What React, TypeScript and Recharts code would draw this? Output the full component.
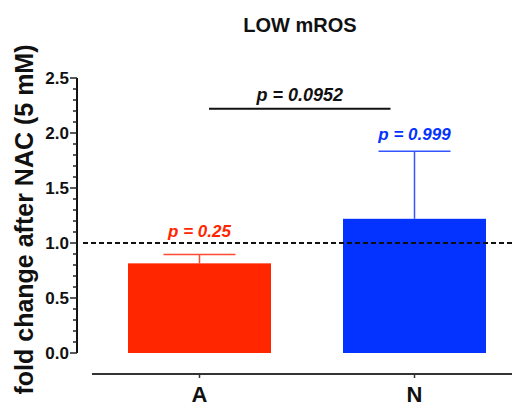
import React from 'react';
import { BarChart, Bar, XAxis, YAxis, ReferenceLine } from 'recharts';

const categories = ['A', 'N'];
const means = [0.815, 1.22];
const sems = [0.08, 0.615];
const pLabels = ['p = 0.25', 'p = 0.999'];
const yTicks = [
  0, 0.1, 0.2, 0.3, 0.4, 0.5, 0.6, 0.7, 0.8, 0.9, 1.0, 1.1, 1.2,
  1.3, 1.4, 1.5, 1.6, 1.7, 1.8, 1.9, 2.0, 2.1, 2.2, 2.3, 2.4, 2.5,
];
const baseline = 1.0;
const comparisonY = 2.22;
const comparisonLabel = 'p = 0.0952';

const FONT = '"Liberation Sans", Arial, sans-serif';
const barColors: Record<string, string> = { A: '#FF2600', N: '#0433FF' };
const whiskerColors: Record<string, string> = { A: '#FF4A33', N: '#3355FF' };
const labelGap: Record<string, number> = { A: 18, N: 11 };

const rows = categories.map((name, i) => ({
  name,
  mean: means[i],
  sem: sems[i],
  p: pLabels[i],
}));

// long mark + label every 0.5, short mark every 0.1
function YTick(props: any) {
  const { x, y, payload } = props;
  const v = payload.value;
  const major = Math.abs(v * 2 - Math.round(v * 2)) < 1e-6;
  return (
    <g>
      <line x1={x - (major ? 7 : 4)} x2={x} y1={y} y2={y} stroke="#222" strokeWidth={1.5} />
      {major && (
        <text
          x={x - 8}
          y={y}
          textAnchor="end"
          dominantBaseline="central"
          fontFamily={FONT}
          fontWeight="bold"
          fontSize={17}
          fill="#111"
        >
          {v.toFixed(1)}
        </text>
      )}
    </g>
  );
}

// bar + upper SEM whisker + p label, all off the bar's own geometry
function BarWithError(props: any) {
  const { x, y, width, height, payload } = props;
  const pxPerUnit = height / payload.mean;
  const top = y - payload.sem * pxPerUnit;
  const cx = x + width / 2;
  const capHalf = 36;
  const color = barColors[payload.name];
  const whisker = whiskerColors[payload.name];
  return (
    <g>
      <rect x={x} y={y} width={width} height={height} fill={color} />
      <line x1={cx} x2={cx} y1={y} y2={top} stroke={whisker} strokeWidth={1.5} />
      <line x1={cx - capHalf} x2={cx + capHalf} y1={top} y2={top} stroke={whisker} strokeWidth={1.5} />
      <text
        x={cx}
        y={top - labelGap[payload.name]}
        textAnchor="middle"
        fontFamily={FONT}
        fontWeight="bold"
        fontStyle="italic"
        fontSize={17}
        fill={color}
      >
        {payload.p}
      </text>
    </g>
  );
}

function DashedBaseline(props: any) {
  const { x1, x2, y1, y2 } = props;
  return <line x1={x1 - 9} x2={x2} y1={y1} y2={y2} stroke="#111" strokeWidth={2} strokeDasharray="5 3" />;
}

function ComparisonBar(props: any) {
  const { x1, x2, y1 } = props;
  const left = x1 + 9.5;
  const right = x2 - 24;
  return (
    <g>
      <line x1={left} x2={right} y1={y1} y2={y1} stroke="#111" strokeWidth={2} />
      <text
        x={(left + right) / 2}
        y={y1 - 8}
        textAnchor="middle"
        fontFamily={FONT}
        fontWeight="bold"
        fontStyle="italic"
        fontSize={18}
        fill="#111"
      >
        {comparisonLabel}
      </text>
    </g>
  );
}

function YLabel(props: any) {
  const { viewBox } = props;
  const cx = viewBox.x + 33;
  const cy = viewBox.y + viewBox.height / 2 + 4;
  return (
    <text
      x={cx}
      y={cy}
      transform={`rotate(-90, ${cx}, ${cy})`}
      textAnchor="middle"
      fontFamily={FONT}
      fontWeight="bold"
      fontSize={25}
      fill="#111"
    >
      fold change after NAC (5 mM)
    </text>
  );
}

export default function App() {
  return (
    <div style={{ position: 'absolute', left: 0, top: 0, width: 512, height: 406, overflow: 'hidden', background: '#fff' }}>
      <div
        style={{
          position: 'absolute',
          left: 200,
          top: 15,
          width: 200,
          textAlign: 'center',
          fontFamily: FONT,
          fontWeight: 'bold',
          fontSize: 20,
          lineHeight: '20px',
          color: '#111',
        }}
      >
        LOW mROS
      </div>
      {/* "gap" axes only push the real axes away from the plot, Prism style */}
      <BarChart width={522} height={406} data={rows} margin={{ top: 78, right: 0, bottom: 0, left: 0 }}>
        <XAxis xAxisId="gap" dataKey="name" height={21} tick={false} axisLine={false} tickLine={false} />
        <XAxis
          xAxisId="main"
          dataKey="name"
          height={32}
          stroke="#333"
          axisLine={{ stroke: '#333', strokeWidth: 2 }}
          tickLine={{ stroke: '#333', strokeWidth: 1.5 }}
          tickSize={4}
          tickMargin={8}
          tick={{ fontFamily: FONT, fontWeight: 'bold', fontSize: 22, fill: '#111' }}
        />
        <YAxis yAxisId="gap" width={15} tick={false} axisLine={false} tickLine={false} />
        <YAxis
          yAxisId="main"
          width={77}
          domain={[0, 2.5]}
          ticks={yTicks}
          interval={0}
          tickSize={0}
          tickMargin={0}
          tickLine={false}
          stroke="#111"
          axisLine={{ stroke: '#111', strokeWidth: 2 }}
          tick={<YTick />}
          label={<YLabel />}
        />
        <Bar
          xAxisId="main"
          yAxisId="main"
          dataKey="mean"
          barSize={143}
          shape={<BarWithError />}
          isAnimationActive={false}
        />
        <ReferenceLine xAxisId="main" yAxisId="main" y={baseline} shape={<DashedBaseline />} />
        <ReferenceLine
          xAxisId="main"
          yAxisId="main"
          segment={[
            { x: categories[0], y: comparisonY },
            { x: categories[1], y: comparisonY },
          ]}
          shape={<ComparisonBar />}
        />
      </BarChart>
    </div>
  );
}
